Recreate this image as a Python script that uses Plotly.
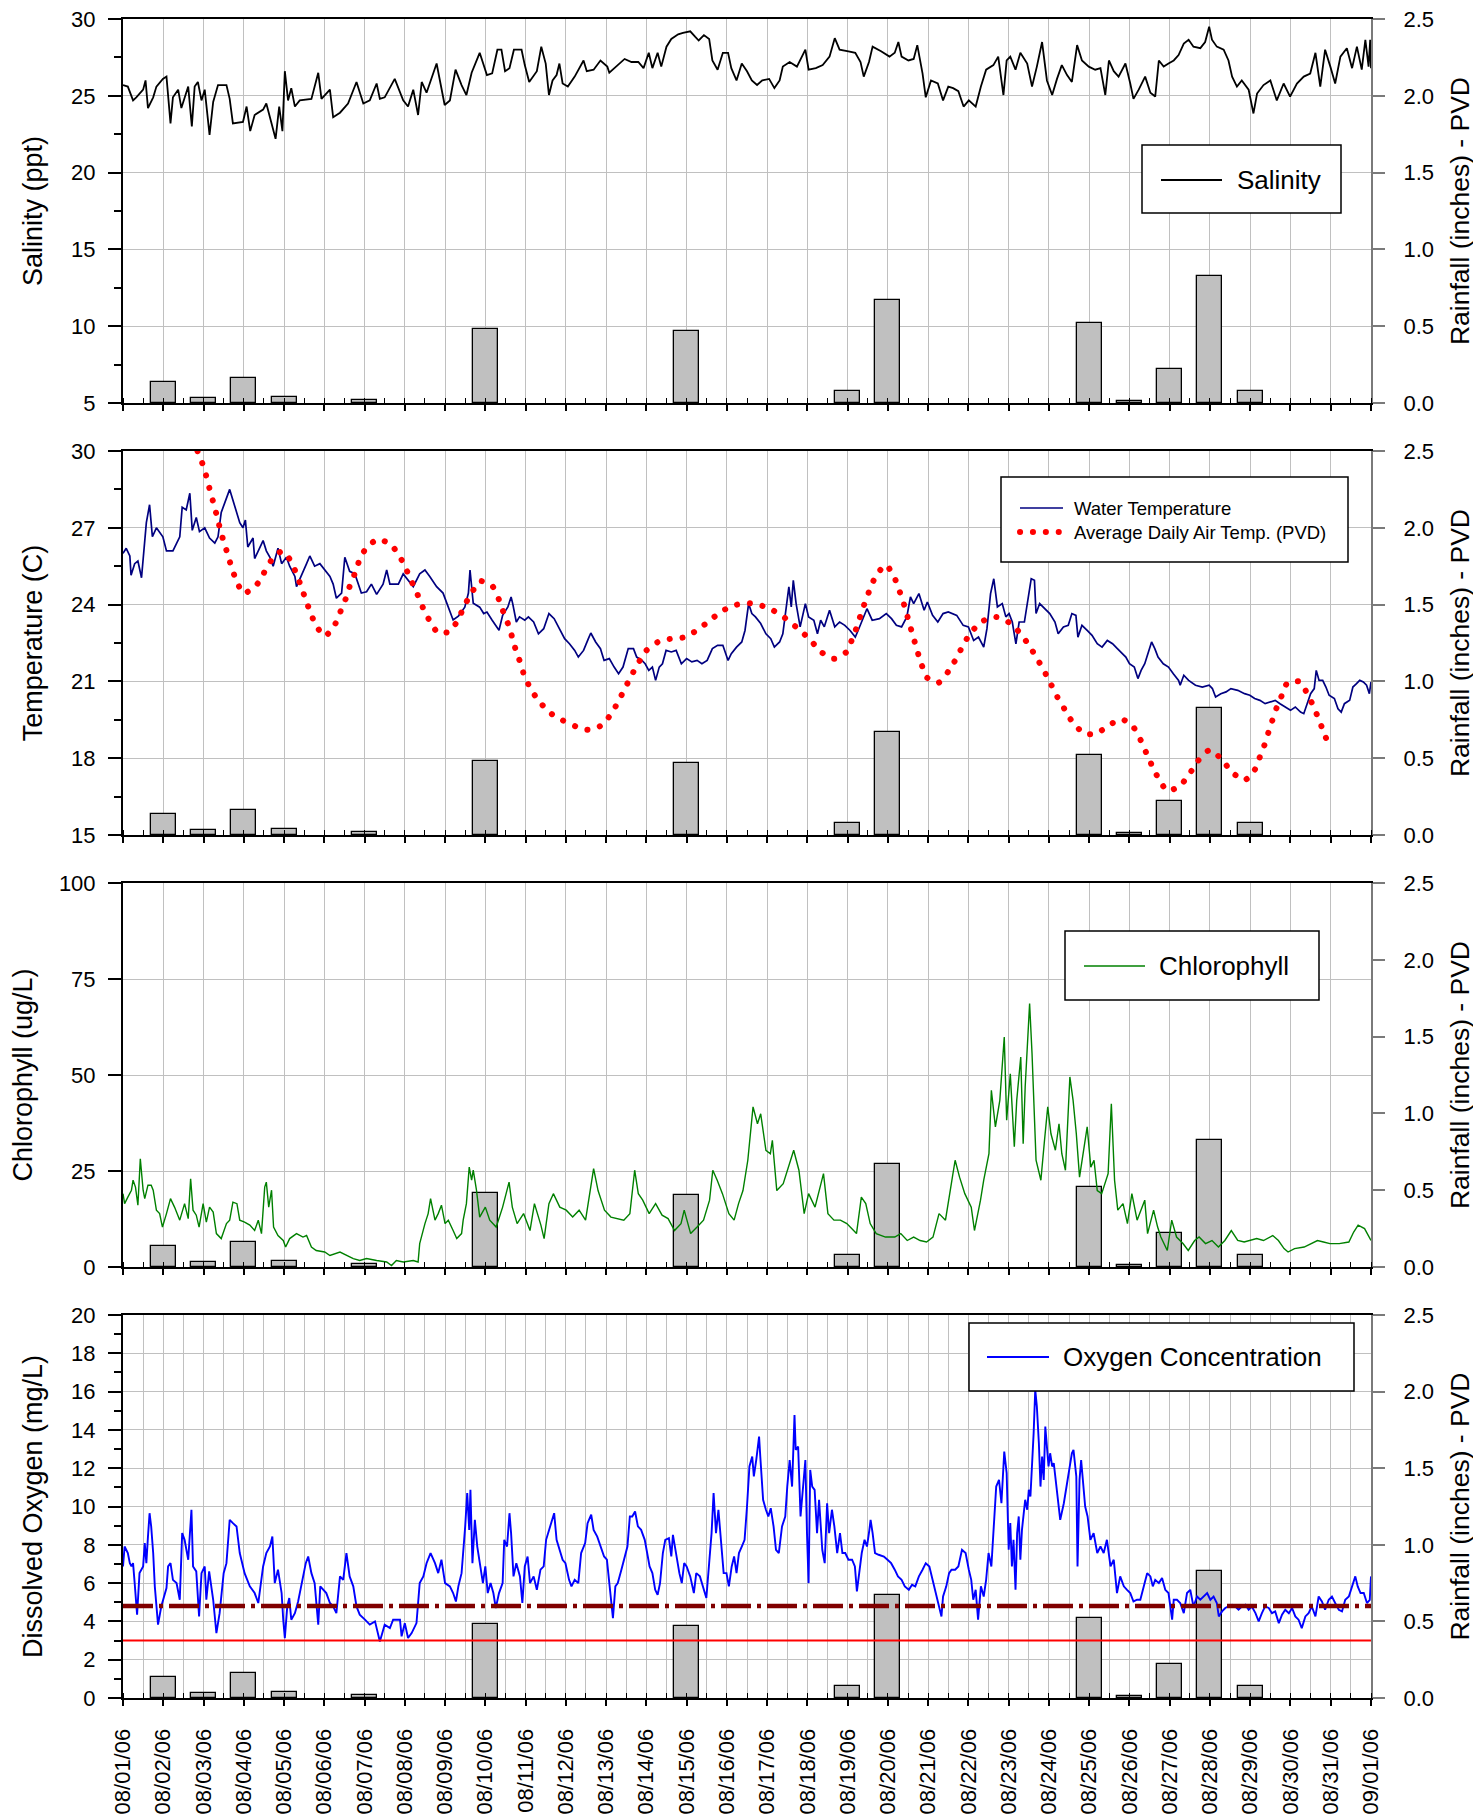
import plotly.graph_objects as go
from datetime import datetime, timedelta

# ---------------- data ----------------
BASE = datetime(2006, 8, 1)
END = datetime(2006, 9, 1)

rain_day = [1, 2, 3, 4, 6, 9, 14, 18, 19, 24, 25, 26, 27, 28]
rain_in = [0.14, 0.03, 0.16, 0.04, 0.02, 0.48, 0.47, 0.08, 0.67, 0.52, 0.01, 0.22, 0.83, 0.08]

# (day offset from 08/01/06 00:00, value)
sal_pts = [
(0.00,25.7),(0.12,25.6),(0.25,24.7),(0.33,24.9),(0.50,25.4),(0.56,26.0),(0.62,24.2),(0.75,24.9),(0.83,25.6),(0.99,26.1),
(1.08,26.25),(1.18,23.2),(1.24,24.9),(1.37,25.4),(1.45,24.2),(1.53,24.9),(1.62,25.6),(1.71,23.0),(1.78,25.6),(1.86,25.9),(1.95,24.7),
(2.03,25.4),(2.15,22.45),(2.24,24.6),(2.36,25.7),(2.57,25.7),(2.65,24.8),(2.73,23.2),(2.98,23.3),
(3.07,24.3),(3.16,22.7),(3.27,23.75),(3.48,24.1),(3.56,24.5),(3.79,22.2),(3.88,24.3),(3.96,22.7),
(4.02,26.6),(4.10,24.7),(4.18,25.5),(4.27,24.3),(4.39,24.7),(4.68,24.8),(4.85,26.5),(4.93,24.8),
(5.14,25.4),(5.22,23.6),(5.39,23.9),(5.59,24.5),(5.80,25.9),(5.97,24.5),
(6.13,24.7),(6.30,25.8),(6.38,24.8),(6.50,24.9),(6.75,26.1),(6.96,24.7),
(7.08,24.3),(7.21,25.4),(7.33,23.75),(7.42,25.9),(7.54,25.2),(7.79,27.1),(7.99,24.4),
(8.12,24.7),(8.26,26.7),(8.41,25.7),(8.53,25.05),(8.66,26.5),(8.86,27.8),
(9.04,26.35),(9.17,26.46),(9.30,28.0),(9.40,28.0),(9.49,26.6),(9.60,26.8),(9.71,28.0),(9.90,28.0),(9.98,27.0),
(10.09,25.9),(10.28,26.6),(10.39,28.2),(10.50,27.1),(10.58,25.05),(10.67,26.0),(10.77,26.35),(10.84,27.1),(10.92,25.8),
(11.05,25.6),(11.22,26.25),(11.35,26.9),(11.44,27.3),(11.52,26.6),(11.69,26.7),(11.86,27.3),
(12.03,26.9),(12.08,26.5),(12.25,26.9),(12.46,27.4),(12.63,27.2),(12.80,27.2),(12.93,26.8),
(13.06,27.8),(13.15,26.8),(13.28,27.8),(13.37,26.9),(13.50,28.2),(13.62,28.7),(13.79,29.0),(13.91,29.1),
(14.09,29.2),(14.21,28.85),(14.30,28.6),(14.43,28.95),(14.56,28.7),(14.64,27.3),(14.77,26.7),(14.90,27.8),
(15.03,27.8),(15.11,26.8),(15.24,26.0),(15.37,27.1),(15.50,26.6),(15.62,26.0),(15.75,25.7),(15.88,26.0),
(16.05,26.1),(16.18,25.5),(16.31,26.0),(16.39,26.9),(16.56,27.2),(16.74,26.9),(16.95,28.0),
(17.03,26.7),(17.21,26.8),(17.38,27.0),(17.55,27.55),(17.68,28.75),(17.80,28.0),
(18.02,27.9),(18.19,27.8),(18.32,27.2),(18.40,26.25),(18.53,27.2),(18.62,28.2),(18.83,27.9),
(19.04,27.55),(19.17,27.8),(19.26,28.5),(19.34,27.55),(19.51,27.3),(19.64,27.4),(19.73,28.3),(19.86,26.46),(19.94,24.9),
(20.07,26.0),(20.24,25.8),(20.37,24.7),(20.50,25.6),(20.62,25.5),(20.75,25.3),(20.88,24.3),
(21.01,24.7),(21.18,24.3),(21.31,25.6),(21.44,26.7),(21.62,27.0),(21.74,27.55),(21.87,25.05),(21.95,27.3),
(22.04,27.55),(22.17,26.7),(22.29,27.8),(22.46,27.1),(22.58,25.6),(22.70,26.9),(22.83,28.5),(22.95,26.0),
(23.08,25.05),(23.20,26.1),(23.32,27.0),(23.45,26.35),(23.57,25.9),(23.70,28.3),(23.82,27.3),(23.99,26.9),
(24.15,26.7),(24.28,26.8),(24.40,25.05),(24.49,27.3),(24.61,26.6),(24.73,26.25),(24.90,27.1),
(25.02,25.8),(25.10,24.8),(25.23,25.4),(25.39,26.25),(25.52,25.2),(25.64,24.95),(25.73,27.3),(25.85,26.9),(25.97,27.1),
(26.10,27.3),(26.22,27.65),(26.35,28.4),(26.47,28.65),(26.59,28.2),(26.76,28.1),(26.88,28.5),(26.98,29.5),
(27.05,28.65),(27.17,28.2),(27.34,28.0),(27.46,27.3),(27.55,26.25),(27.67,25.6),(27.79,26.0),(27.96,25.4),
(28.08,23.85),(28.17,25.15),(28.33,25.7),(28.50,26.0),(28.66,24.7),(28.83,25.8),(28.99,24.95),
(29.16,25.8),(29.33,26.25),(29.49,26.45),(29.62,27.8),(29.74,25.6),(29.86,28.0),(29.99,26.9),
(30.11,25.8),(30.24,27.55),(30.40,28.1),(30.53,26.8),(30.65,28.2),(30.77,26.7),(30.86,28.65),(30.94,26.9),(30.98,28.65),(31.00,26.8),
]

wt_pts = [
(0.00,26.0),(0.08,26.2),(0.17,25.9),(0.20,25.15),(0.29,25.6),(0.37,25.7),(0.46,25.05),(0.50,25.7),(0.58,27.2),(0.66,27.9),(0.73,26.65),(0.83,27.0),(0.99,26.65),
(1.08,26.1),(1.24,26.1),(1.41,26.65),(1.47,27.8),(1.57,27.7),(1.66,28.35),(1.72,26.9),(1.82,27.4),(1.90,26.85),
(2.03,27.0),(2.15,26.6),(2.28,26.4),(2.36,26.65),(2.44,27.6),(2.65,28.5),(2.78,27.8),(2.90,27.2),(2.98,27.0),
(3.04,27.3),(3.10,26.25),(3.23,26.6),(3.27,25.8),(3.48,26.5),(3.56,26.1),(3.65,25.85),(3.73,25.5),(3.85,26.2),(3.94,25.6),
(4.06,25.85),(4.14,25.5),(4.27,25.1),(4.31,24.7),(4.43,25.1),(4.56,25.6),(4.64,25.9),(4.76,25.5),(4.89,25.6),
(5.01,25.35),(5.14,25.1),(5.22,24.8),(5.30,24.25),(5.43,24.45),(5.51,25.85),(5.63,25.3),(5.76,25.2),(5.92,24.45),
(6.05,24.5),(6.17,24.8),(6.30,24.4),(6.46,24.8),(6.55,25.35),(6.63,24.8),(6.84,24.8),(6.96,25.2),
(7.08,24.95),(7.21,24.7),(7.37,25.2),(7.50,25.35),(7.62,25.1),(7.79,24.7),(7.95,24.45),
(8.08,23.9),(8.20,23.4),(8.33,23.55),(8.49,23.9),(8.58,24.45),(8.62,25.35),(8.70,24.05),(8.86,23.9),
(8.96,23.65),(9.04,23.71),(9.17,23.39),(9.26,23.19),(9.34,23.0),(9.43,23.58),(9.56,23.91),(9.64,24.3),(9.68,24.04),(9.77,23.32),(9.85,23.52),(9.98,23.39),
(10.07,23.52),(10.20,23.32),(10.32,22.86),(10.45,23.06),(10.58,23.65),(10.71,23.45),(10.84,23.06),(10.97,22.67),
(11.09,22.47),(11.22,22.21),(11.31,21.95),(11.44,22.21),(11.56,22.67),(11.62,22.89),(11.74,22.54),(11.86,22.28),(11.95,21.82),
(12.08,21.89),(12.20,21.56),(12.31,21.3),(12.42,21.56),(12.55,22.28),(12.68,22.28),(12.76,21.95),(12.89,21.82),(12.97,21.69),
(13.06,21.43),(13.15,21.56),(13.23,21.04),(13.32,21.56),(13.40,21.69),(13.49,22.21),(13.62,22.15),(13.74,22.21),(13.87,21.69),
(14.00,21.89),(14.13,21.76),(14.26,21.82),(14.38,21.69),(14.51,21.82),(14.64,22.28),(14.77,22.41),(14.90,22.41),
(15.03,21.82),(15.11,22.08),(15.24,22.34),(15.37,22.54),(15.45,22.99),(15.54,24.04),(15.62,23.65),(15.71,23.52),(15.84,23.26),(15.97,22.86),
(16.09,22.67),(16.18,22.34),(16.31,22.54),(16.39,22.86),(16.48,23.97),(16.54,24.69),(16.60,23.91),(16.65,24.95),(16.72,24.04),(16.82,23.13),(16.95,24.04),
(17.03,23.52),(17.16,23.39),(17.25,22.86),(17.33,23.39),(17.42,23.13),(17.55,23.78),(17.68,23.13),(17.80,23.32),(17.93,23.19),
(18.06,22.99),(18.19,22.73),(18.26,22.99),(18.39,23.52),(18.48,23.84),(18.61,23.39),(18.79,23.45),(18.96,23.65),
(19.09,23.45),(19.21,23.19),(19.34,23.13),(19.47,23.52),(19.56,24.3),(19.64,24.04),(19.77,24.43),(19.90,23.78),(19.98,24.1),
(20.11,23.58),(20.24,23.32),(20.37,23.65),(20.50,23.71),(20.71,23.58),(20.87,23.19),
(21.00,23.13),(21.13,22.6),(21.25,22.73),(21.38,22.34),(21.46,23.06),(21.55,24.43),(21.63,25.01),(21.72,23.91),(21.84,24.04),(21.93,23.52),
(22.01,23.65),(22.09,23.32),(22.18,22.47),(22.26,23.32),(22.39,23.32),(22.49,24.3),(22.56,25.01),(22.64,24.95),(22.68,23.65),(22.77,24.04),(22.89,23.84),
(23.02,23.65),(23.15,23.32),(23.23,22.86),(23.36,23.13),(23.48,23.19),(23.57,23.65),(23.67,23.58),(23.72,22.73),(23.82,23.19),(23.95,22.99),
(24.07,22.8),(24.20,22.47),(24.32,22.34),(24.45,22.6),(24.58,22.47),(24.70,22.28),(24.83,22.08),(24.91,21.95),
(25.00,21.69),(25.12,21.56),(25.21,21.11),(25.29,21.43),(25.38,21.69),(25.46,22.08),(25.55,22.54),(25.63,22.28),(25.71,21.95),(25.84,21.69),(25.97,21.56),
(26.09,21.3),(26.22,21.04),(26.26,20.85),(26.35,21.24),(26.47,21.04),(26.64,20.85),(26.81,20.78),(26.98,20.85),
(27.06,20.72),(27.14,20.39),(27.27,20.52),(27.40,20.59),(27.52,20.72),(27.69,20.65),(27.86,20.52),(27.99,20.46),
(28.11,20.33),(28.24,20.26),(28.37,20.13),(28.49,20.2),(28.62,20.26),(28.74,20.13),(28.87,20.0),
(29.00,19.87),(29.12,20.0),(29.25,19.8),(29.33,19.74),(29.42,20.13),(29.50,20.52),(29.59,20.72),(29.64,21.43),(29.71,21.04),(29.80,21.04),(29.88,20.78),(29.96,20.46),
(30.09,20.33),(30.18,19.93),(30.26,19.8),(30.34,20.13),(30.47,20.26),(30.55,20.78),(30.64,20.91),(30.72,21.04),(30.81,20.98),(30.89,20.85),(30.96,20.52),(31.00,20.98),
]

air_pts = [
(1.85,30.0),(2.00,29.39),(2.09,28.89),(2.17,28.4),(2.26,27.9),(2.34,27.41),(2.42,26.9),(2.51,26.42),(2.61,25.92),(2.70,25.43),(2.82,24.93),(2.99,24.44),
(3.29,24.71),(3.49,25.21),(3.68,25.72),(3.95,26.09),(4.18,25.68),(4.31,25.18),(4.43,24.69),(4.54,24.18),(4.66,23.68),(4.79,23.19),(5.02,22.77),
(5.27,23.24),(5.40,23.72),(5.53,24.22),(5.63,24.71),(5.76,25.22),(5.87,25.72),(6.04,26.21),(6.33,26.55),(6.65,26.35),(6.88,25.86),
(7.04,25.36),(7.18,24.87),(7.32,24.38),(7.45,23.88),(7.61,23.39),(7.83,22.89),(8.13,22.96),(8.33,23.44),(8.48,23.95),(8.65,24.44),(8.88,24.92),
(9.18,24.71),(9.34,24.19),(9.45,23.7),(9.57,23.22),(9.67,22.71),(9.76,22.21),(9.87,21.73),(9.97,21.22),(10.12,20.73),(10.32,20.25),(10.61,19.77),(10.92,19.48),
(11.25,19.24),(11.55,19.11),(11.86,19.26),(12.12,19.71),(12.30,20.21),(12.46,20.7),(12.62,21.2),(12.79,21.69),(12.99,22.19),(13.30,22.55),(13.62,22.67),(13.93,22.72),
(14.24,22.98),(14.56,23.36),(14.88,23.75),(15.20,23.98),(15.50,24.06),(15.82,23.98),(16.14,23.78),(16.44,23.48),(16.76,23.07),(17.06,22.64),(17.34,22.15),(17.66,21.88),
(17.97,22.15),(18.11,22.64),(18.23,23.14),(18.33,23.63),(18.44,24.13),(18.56,24.62),(18.70,25.12),(18.95,25.55),(19.15,25.1),(19.27,24.61),(19.38,24.11),(19.47,23.62),
(19.56,23.12),(19.65,22.63),(19.74,22.14),(19.84,21.64),(19.97,21.15),(20.26,20.95),(20.52,21.43),(20.71,21.93),(20.87,22.42),(21.06,22.91),(21.36,23.36),(21.68,23.52),
(21.99,23.32),(22.29,22.88),(22.52,22.37),(22.71,21.88),(22.89,21.38),(23.05,20.89),(23.21,20.39),(23.39,19.91),(23.59,19.4),(23.88,18.96),(24.19,18.97),(24.51,19.31),
(24.82,19.52),(25.10,19.21),(25.28,18.7),(25.42,18.2),(25.56,17.71),(25.72,17.21),(25.94,16.73),(26.25,16.91),(26.50,17.41),(26.70,17.89),(26.99,18.32),(27.29,17.96),
(27.54,17.46),(27.86,17.14),(28.10,17.51),(28.23,18.01),(28.35,18.5),(28.45,19.0),(28.55,19.48),(28.66,19.99),(28.79,20.47),(28.93,20.96),(29.23,20.99),(29.43,20.48),
(29.58,19.99),(29.71,19.49),(29.83,19.0),(29.95,18.52),
]

chl_pts = [
(0.00,19.1),(0.04,16.5),(0.12,18.2),(0.21,20.0),(0.25,22.6),(0.31,20.8),(0.37,16.1),(0.43,28.2),(0.50,20.0),(0.54,17.8),(0.62,21.3),(0.70,21.3),(0.75,20.0),(0.83,14.8),(0.91,13.9),(0.98,10.4),
(1.08,13.9),(1.18,17.8),(1.28,15.6),(1.41,12.2),(1.53,16.5),(1.62,12.6),(1.68,23.0),(1.74,14.8),(1.82,13.5),(1.89,10.4),(1.99,16.5),
(2.07,11.7),(2.15,15.6),(2.24,14.3),(2.32,8.7),(2.44,7.4),(2.57,11.3),(2.65,12.2),(2.73,16.9),(2.83,16.5),(2.90,12.2),
(3.02,11.7),(3.15,10.9),(3.27,9.5),(3.36,12.2),(3.44,8.7),(3.52,20.8),(3.56,22.1),(3.62,15.6),(3.69,20.0),(3.74,10.4),(3.85,8.2),(3.98,6.9),
(4.04,5.2),(4.14,7.4),(4.31,8.7),(4.47,7.8),(4.56,8.2),(4.68,5.2),(4.80,4.3),(5.01,3.9),(5.14,3.0),(5.39,3.9),(5.55,3.0),(5.72,2.2),(5.88,1.7),
(6.05,2.2),(6.30,1.7),(6.55,1.3),(6.67,0.4),(6.79,1.7),(6.96,1.3),(7.21,1.7),(7.33,1.3),(7.37,6.1),(7.50,11.3),(7.58,13.9),(7.64,17.8),(7.75,12.2),(7.83,13.9),(7.91,16.1),
(8.00,11.3),(8.08,12.2),(8.20,9.5),(8.29,7.4),(8.41,8.7),(8.45,12.2),(8.53,16.5),(8.60,26.0),(8.66,22.6),(8.70,25.2),(8.78,20.0),(8.86,13.0),
(9.00,15.6),(9.11,12.2),(9.27,10.4),(9.43,15.6),(9.59,22.1),(9.67,15.6),(9.79,11.3),(9.95,13.9),
(10.11,9.5),(10.22,16.5),(10.38,10.9),(10.46,7.4),(10.58,16.5),(10.69,19.1),(10.85,15.6),
(11.01,14.8),(11.17,13.0),(11.33,14.8),(11.49,12.2),(11.64,21.7),(11.69,25.6),(11.80,19.9),(11.96,14.8),
(12.12,13.0),(12.28,12.6),(12.44,12.2),(12.59,13.9),(12.71,25.2),(12.80,19.1),(12.91,17.4),
(13.07,13.9),(13.23,16.5),(13.39,13.5),(13.54,12.6),(13.70,9.5),(13.86,11.3),(13.94,14.8),
(14.10,8.7),(14.26,10.4),(14.42,12.2),(14.57,17.4),(14.65,25.2),(14.76,22.6),(14.89,19.1),
(15.05,13.9),(15.18,12.2),(15.29,16.5),(15.40,19.9),(15.52,27.8),(15.65,41.7),(15.76,37.3),(15.84,39.9),(15.97,30.4),
(16.08,29.5),(16.13,33.0),(16.24,19.9),(16.40,21.7),(16.55,26.9),(16.66,30.4),(16.79,25.2),(16.92,13.9),
(17.03,19.1),(17.19,15.6),(17.40,24.3),(17.51,13.9),(17.66,12.2),(17.82,12.2),(17.98,11.3),
(18.22,8.7),(18.34,18.2),(18.45,16.5),(18.56,11.3),(18.71,8.7),(18.94,7.8),
(19.17,7.8),(19.32,8.7),(19.48,6.9),(19.64,7.8),(19.80,6.9),(19.96,6.5),
(20.12,7.8),(20.27,13.9),(20.43,12.2),(20.59,22.6),(20.67,27.8),(20.78,23.4),(20.91,19.1),
(21.07,15.6),(21.15,9.5),(21.30,17.4),(21.38,22.6),(21.51,29.5),(21.57,46.0),(21.67,36.5),(21.78,43.4),(21.89,59.9),(21.95,38.2),
(22.04,50.3),(22.14,31.3),(22.20,43.4),(22.30,54.7),(22.36,32.1),(22.41,46.9),(22.52,68.6),(22.58,55.6),(22.68,27.8),(22.80,22.6),(22.89,33.0),(22.97,41.7),
(23.05,34.7),(23.16,30.4),(23.25,37.3),(23.32,29.5),(23.41,25.2),(23.52,49.5),(23.60,43.4),(23.68,34.7),(23.76,23.4),(23.84,29.5),(23.95,36.5),
(24.04,26.0),(24.12,27.8),(24.20,19.9),(24.31,19.1),(24.47,24.3),(24.55,42.5),(24.63,22.6),(24.71,14.8),(24.84,16.5),(24.95,11.3),
(25.06,19.1),(25.19,12.2),(25.38,17.4),(25.45,8.7),(25.60,14.8),(25.70,10.4),(25.78,7.8),(25.94,4.3),
(26.05,12.2),(26.17,7.8),(26.33,6.1),(26.46,4.3),(26.62,6.9),(26.73,7.8),(26.89,6.1),
(27.05,6.9),(27.21,5.2),(27.37,6.9),(27.53,9.5),(27.69,6.9),(27.85,6.5),
(28.00,6.9),(28.16,7.4),(28.33,6.9),(28.56,8.2),(28.70,6.9),(28.84,4.8),(28.94,3.9),
(29.10,4.8),(29.34,5.2),(29.50,6.1),(29.67,6.9),(29.82,6.5),(29.98,6.1),
(30.21,6.1),(30.45,6.5),(30.57,9.1),(30.68,10.9),(30.84,10.0),(30.95,7.8),(31.00,6.9),
]

do_pts = [
(0.00,6.87),(0.04,7.91),(0.12,7.57),(0.17,7.04),(0.21,6.87),(0.25,7.04),(0.29,6.0),(0.35,4.35),(0.41,6.52),(0.50,6.87),(0.54,8.09),(0.58,7.04),(0.62,8.43),(0.66,9.65),(0.70,8.96),(0.75,7.57),(0.79,5.83),(0.83,4.78),(0.87,3.83),(0.95,4.78),
(1.04,5.48),(1.08,5.74),(1.12,6.87),(1.18,7.04),(1.24,6.17),(1.33,6.0),(1.41,5.13),(1.47,8.61),(1.53,8.26),(1.62,7.22),(1.70,9.83),(1.74,6.87),(1.82,6.61),(1.89,4.26),(1.95,6.52),
(2.03,6.87),(2.07,5.13),(2.14,6.61),(2.24,5.13),(2.32,3.39),(2.40,4.43),(2.50,6.52),(2.57,7.04),(2.65,9.3),(2.73,9.13),(2.82,8.96),(2.90,7.57),
(3.02,6.52),(3.15,5.83),(3.27,5.48),(3.36,4.96),(3.48,6.87),(3.56,7.57),(3.65,7.91),(3.71,8.43),(3.77,6.0),(3.85,6.7),(3.94,5.48),(3.98,4.09),
(4.02,3.13),(4.08,4.78),(4.13,5.22),(4.18,4.09),(4.27,4.43),(4.35,5.04),(4.43,5.83),(4.54,7.04),(4.60,7.39),(4.68,6.52),(4.76,6.0),(4.85,3.83),(4.90,5.83),(4.97,5.65),
(5.05,5.48),(5.14,4.96),(5.22,4.78),(5.30,4.43),(5.39,6.35),(5.47,6.17),(5.55,7.57),(5.63,6.35),(5.72,5.83),(5.80,4.78),(5.88,4.35),
(6.01,4.09),(6.13,3.83),(6.26,4.0),(6.38,2.95),(6.50,3.83),(6.63,3.65),(6.71,4.09),(6.88,4.09),(6.92,3.22),
(7.00,3.91),(7.08,3.13),(7.17,3.39),(7.29,3.91),(7.37,6.0),(7.46,6.35),(7.54,7.04),(7.64,7.57),(7.75,7.04),(7.83,6.52),(7.91,7.22),
(8.00,6.0),(8.12,5.83),(8.20,5.48),(8.27,5.04),(8.33,5.83),(8.41,6.52),(8.50,8.96),(8.55,10.7),(8.60,8.78),(8.63,10.87),(8.68,7.04),(8.74,9.3),(8.80,7.91),(8.88,6.87),
(8.94,6.0),(9.00,6.87),(9.06,5.48),(9.13,6.0),(9.20,5.48),(9.26,4.7),(9.34,5.48),(9.43,6.0),(9.47,8.26),(9.54,7.91),(9.60,9.65),(9.64,8.61),(9.70,6.35),(9.77,7.04),(9.86,6.35),(9.92,4.96),(9.98,6.87),
(10.05,7.39),(10.11,6.0),(10.20,6.35),(10.28,5.65),(10.37,6.7),(10.45,6.87),(10.51,8.26),(10.58,8.78),(10.64,9.13),(10.71,9.65),(10.77,8.26),(10.86,7.57),(10.92,7.22),(10.99,7.04),
(11.08,6.17),(11.14,5.83),(11.22,6.17),(11.31,6.0),(11.38,7.57),(11.48,8.09),(11.54,9.13),(11.63,9.57),(11.69,8.78),(11.78,8.43),(11.87,7.91),(11.95,7.39),
(12.02,7.22),(12.11,5.13),(12.17,4.17),(12.23,5.83),(12.29,6.0),(12.38,6.7),(12.46,7.39),(12.53,7.91),(12.59,9.48),(12.65,9.48),(12.72,9.74),(12.79,8.96),(12.87,8.78),(12.96,8.26),
(13.02,7.57),(13.08,6.87),(13.15,6.52),(13.22,5.65),(13.28,5.39),(13.34,6.0),(13.41,7.57),(13.47,8.26),(13.56,8.35),(13.62,7.39),(13.66,8.52),(13.73,7.57),(13.82,6.52),(13.88,6.0),(13.94,7.04),
(14.00,6.87),(14.09,6.35),(14.18,5.48),(14.24,6.52),(14.33,6.35),(14.41,5.83),(14.49,5.22),(14.56,7.04),(14.62,8.61),(14.67,10.7),(14.73,8.61),(14.79,9.83),(14.86,8.26),(14.92,6.52),(14.99,6.52),
(15.05,5.83),(15.12,6.87),(15.18,7.39),(15.24,6.52),(15.30,7.57),(15.37,7.91),(15.44,8.26),(15.50,10.0),(15.56,12.09),(15.63,12.61),(15.67,11.57),(15.73,12.43),(15.80,13.65),(15.83,12.61),(15.90,10.35),(15.97,9.83),
(16.03,9.48),(16.09,9.91),(16.16,8.96),(16.22,7.74),(16.29,7.57),(16.37,8.96),(16.45,9.48),(16.50,11.04),(16.56,12.43),(16.62,11.04),(16.68,14.78),(16.71,12.96),(16.77,13.13),(16.83,9.48),(16.90,11.04),(16.95,12.43),(16.99,8.61),
(17.03,6.0),(17.07,11.91),(17.12,11.04),(17.18,10.87),(17.24,8.61),(17.29,10.35),(17.37,7.74),(17.43,7.04),(17.49,10.17),(17.54,8.61),(17.61,9.83),(17.67,8.96),(17.74,7.57),(17.81,8.61),(17.87,7.57),(17.94,7.57),
(18.02,7.22),(18.11,7.22),(18.18,6.87),(18.23,5.57),(18.29,6.52),(18.35,7.57),(18.42,8.26),(18.48,7.91),(18.54,8.78),(18.57,9.3),(18.62,8.61),(18.68,7.57),(18.77,7.48),(18.90,7.39),(18.99,7.22),
(19.08,7.04),(19.17,6.7),(19.25,6.35),(19.34,6.17),(19.42,5.83),(19.52,5.65),(19.60,5.91),(19.68,5.83),(19.77,6.35),(19.86,6.7),(19.94,7.04),
(20.03,6.87),(20.11,6.17),(20.20,5.48),(20.27,4.7),(20.33,4.26),(20.37,5.3),(20.45,5.83),(20.52,6.52),(20.58,6.7),(20.67,6.7),(20.75,6.87),(20.84,7.74),(20.93,7.57),
(21.01,6.7),(21.07,6.17),(21.12,5.13),(21.18,5.65),(21.24,4.09),(21.31,5.83),(21.38,5.3),(21.44,6.17),(21.50,7.57),(21.57,6.87),(21.63,8.96),(21.69,11.04),(21.76,11.39),(21.82,10.17),(21.89,12.87),(21.95,11.74),
(22.00,7.74),(22.04,9.13),(22.08,6.87),(22.12,8.26),(22.17,5.65),(22.21,8.61),(22.25,9.48),(22.29,7.22),(22.33,8.78),(22.41,10.35),(22.46,9.83),(22.50,10.87),(22.54,10.52),(22.58,12.09),(22.62,13.83),(22.66,16.09),(22.70,15.22),(22.75,13.3),(22.79,11.04),(22.83,12.61),(22.87,11.39),(22.91,14.17),(22.95,12.96),(22.99,12.09),
(23.03,12.78),(23.08,12.09),(23.12,12.26),(23.20,10.7),(23.28,9.3),(23.37,10.17),(23.45,11.22),(23.53,12.09),(23.57,12.78),(23.61,12.96),(23.68,11.57),(23.71,6.87),(23.76,11.39),(23.80,12.43),(23.86,11.04),(23.90,10.0),(23.96,9.48),
(24.03,8.26),(24.11,8.61),(24.20,7.57),(24.28,7.91),(24.36,7.57),(24.44,8.26),(24.53,6.87),(24.61,7.22),(24.69,5.48),(24.77,6.35),(24.86,5.83),(24.94,5.65),
(25.02,5.48),(25.10,5.04),(25.19,5.13),(25.27,5.13),(25.35,5.83),(25.44,6.52),(25.52,6.35),(25.58,5.83),(25.64,6.17),(25.73,6.0),(25.81,6.26),(25.89,5.65),(25.97,5.48),
(26.02,4.61),(26.06,4.09),(26.10,5.13),(26.18,5.13),(26.26,4.96),(26.35,4.43),(26.43,5.48),(26.51,5.65),(26.59,4.78),(26.68,5.3),(26.76,5.13),(26.84,5.3),(26.93,5.48),
(27.01,5.13),(27.09,5.3),(27.17,4.96),(27.22,4.26),(27.30,4.52),(27.38,4.7),(27.46,4.78),(27.55,4.87),(27.63,4.78),(27.71,4.61),(27.79,4.78),(27.88,4.87),(27.96,4.61),
(28.04,4.78),(28.13,4.43),(28.21,4.0),(28.29,4.43),(28.37,4.78),(28.46,4.7),(28.54,4.43),(28.62,4.52),(28.71,3.91),(28.79,4.35),(28.87,4.61),(28.96,4.43),
(29.04,4.7),(29.12,4.26),(29.20,4.09),(29.28,3.65),(29.37,4.26),(29.45,4.43),(29.53,4.78),(29.62,4.26),(29.70,5.3),(29.78,5.04),(29.86,4.61),(29.95,5.13),
(30.03,5.3),(30.11,4.96),(30.20,4.61),(30.28,4.52),(30.36,5.13),(30.45,5.3),(30.53,5.83),(30.61,6.35),(30.67,5.83),(30.74,5.48),(30.82,5.48),(30.90,4.96),(30.97,5.13),(31.00,6.35),
]

do_standard = 4.8   # dash-dot reference level (mg/L)
do_hypoxia = 3.0    # solid red reference level (mg/L)

# ---------------- helpers ----------------
def to_dates(days):
    return [BASE + timedelta(days=d) for d in days]

def split(pts):
    return to_dates([p[0] for p in pts]), [p[1] for p in pts]

# page geometry (the page body adds an 8px margin around the figure)
OFF = 8
W, H = 1473, 1809
XL, XR = 123, 1371
PANELS = [(19, 403), (451, 835), (883, 1267), (1315, 1698)]
FONT = "Liberation Sans, Arial, sans-serif"
GRID = "#c0c0c0"
RAIN_AX = "#7a7a7a"
DAY_MS = 86400000
AIR_DOT = dict(color="#ff0000", width=6, dash="0.1px,12.8px")

def px(x):
    return (x - OFF) / W

def py(y):
    return 1 - (y - OFF) / H

fig = go.Figure()

panels = [
    dict(series=[(sal_pts, "#000000", 1.8, None)], title="Salinity (ppt)", rng=[5, 30], dtick=5, minor=2.5),
    dict(series=[(wt_pts, "#000080", 1.7, None), (air_pts, None, None, "air")],
         title="Temperature (C)", rng=[15, 30], dtick=3, minor=1.5),
    dict(series=[(chl_pts, "#008000", 1.4, None)], title="Chlorophyll (ug/L)", rng=[0, 100], dtick=25, minor=None),
    dict(series=[(do_pts, "#0000ff", 1.9, None)], title="Dissolved Oxygen (mg/L)", rng=[0, 20], dtick=2, minor=1),
]

layout = dict(
    width=W, height=H, autosize=False,
    margin=dict(l=0, r=0, t=0, b=0, pad=0, autoexpand=False),
    paper_bgcolor="white", plot_bgcolor="white",
    font=dict(family=FONT, size=22, color="black"),
    showlegend=False, bargap=0,
)

for i, p in enumerate(panels):
    n = i + 1
    xa = "x" if n == 1 else f"x{n}"
    ya = "y" if n == 1 else f"y{n}"
    ma = f"y{n + 4}"
    top, bot = PANELS[i]

    # rainfall bars on the base (right-hand) axis so they sit beneath the lines
    fig.add_trace(go.Bar(
        x=to_dates(rain_day), y=rain_in, width=0.62 * DAY_MS,
        marker=dict(color="#c0c0c0", line=dict(color="black", width=1.3)),
        xaxis=xa, yaxis=ya, hoverinfo="skip"))

    for pts, color, width, style in p["series"]:
        xs, ys = split(pts)
        if style == "air":
            line = dict(AIR_DOT, shape="spline", smoothing=0.6)
        else:
            line = dict(color=color, width=width)
        fig.add_trace(go.Scatter(x=xs, y=ys, mode="lines", line=line,
                                 xaxis=xa, yaxis=ma, hoverinfo="skip"))

    xkey = "xaxis" if n == 1 else f"xaxis{n}"
    ykey = "yaxis" if n == 1 else f"yaxis{n}"
    mkey = f"yaxis{n + 4}"

    xdef = dict(
        domain=[px(XL), px(XR)], anchor=ya, type="date", automargin=False,
        range=[BASE, END], tick0=BASE, dtick=DAY_MS,
        ticks="outside", ticklen=6, tickwidth=1.5, tickcolor="black",
        showline=True, linecolor="black", linewidth=2, mirror=True,
        showgrid=True, gridcolor=GRID, gridwidth=1.4, zeroline=False,
        minor=dict(dtick=DAY_MS / 2, tick0=BASE, ticks="inside", ticklen=5, tickwidth=1.2,
                   tickcolor="black", showgrid=(n == 4), gridcolor=GRID, gridwidth=1.4),
        showticklabels=(n == 4), tickformat="%m/%d/%y", tickangle=-90,
        tickfont=dict(size=22), ticklabelstandoff=14, ticklabeloverflow="allow",
    )
    if n > 1:
        xdef["matches"] = "x"
    layout[xkey] = xdef

    layout[ykey] = dict(
        domain=[py(bot), py(top)], anchor=xa, side="right", automargin=False,
        range=[0, 2.5], tick0=0, dtick=0.5, tickformat=".1f",
        ticks="outside", ticklen=12, tickwidth=1.5, tickcolor=RAIN_AX,
        showline=True, linecolor=RAIN_AX, linewidth=2,
        showgrid=False, zeroline=False, tickfont=dict(size=22), ticklabelstandoff=14,
        ticklabeloverflow="allow",
        title=dict(text="Rainfall (inches) - PVD", font=dict(size=26.5), standoff=17),
    )

    mdef = dict(
        overlaying=ya, anchor=xa, side="left", automargin=False,
        range=p["rng"], tick0=p["rng"][0], dtick=p["dtick"],
        ticks="outside", ticklen=13, tickwidth=1.5, tickcolor="black",
        showline=True, linecolor="black", linewidth=2,
        showgrid=True, gridcolor=GRID, gridwidth=1.4, zeroline=False,
        tickfont=dict(size=22), ticklabelstandoff=8, ticklabeloverflow="allow",
        title=dict(text=p["title"], font=dict(size=27), standoff=21),
    )
    if p["minor"]:
        mdef["minor"] = dict(dtick=p["minor"], ticks="outside", ticklen=7, tickwidth=1.5,
                             tickcolor="black", showgrid=False)
    layout[mkey] = mdef

fig.update_layout(**layout)

# DO reference levels
fig.add_shape(type="line", xref="x4 domain", yref="y8", x0=0, x1=1, y0=do_hypoxia, y1=do_hypoxia,
              line=dict(color="#ff0000", width=2), layer="above")
fig.add_shape(type="line", xref="x4 domain", yref="y8", x0=0, x1=1, y0=do_standard, y1=do_standard,
              line=dict(color="#800000", width=4.5, dash="30px,6px,4px,6px"), layer="above")

# ---------------- legend boxes (drawn by hand to match the original layout) ----------------
def box(x0, y0, x1, y1):
    fig.add_shape(type="rect", xref="paper", yref="paper", x0=px(x0), x1=px(x1), y0=py(y1), y1=py(y0),
                  line=dict(color="black", width=1.5), fillcolor="white", layer="above")

def sample(x0, x1, y, line):
    fig.add_shape(type="line", xref="paper", yref="paper", x0=px(x0), x1=px(x1), y0=py(y), y1=py(y),
                  line=line, layer="above")

def label(x, y, text, size):
    fig.add_annotation(xref="paper", yref="paper", x=px(x), y=py(y), text=text, showarrow=False,
                       xanchor="left", yanchor="middle", font=dict(size=size, family=FONT, color="black"))

box(1142, 145, 1341, 213)
sample(1161, 1222, 180, dict(color="#000000", width=1.8))
label(1235, 180, "Salinity", 26)

box(1001, 477, 1348, 562)
sample(1020, 1063, 508, dict(color="#000080", width=1.7))
sample(1020, 1060, 532, AIR_DOT)
label(1072, 508, "Water Temperature", 18.5)
label(1072, 532, "Average Daily Air Temp. (PVD)", 18.5)

box(1065, 931, 1319, 1000)
sample(1084, 1145, 966, dict(color="#008000", width=1.4))
label(1157, 966, "Chlorophyll", 26)

box(969, 1323, 1354, 1391)
sample(987, 1049, 1357, dict(color="#0000ff", width=1.9))
label(1061, 1357, "Oxygen Concentration", 26)

# round caps turn the near-zero dashes of the air-temperature line into round dots
post = """
var gd = document.getElementById('{plot_id}');
function roundDots(){
  gd.querySelectorAll('path').forEach(function(p){
    var d = p.style.strokeDasharray || p.getAttribute('stroke-dasharray') || '';
    if (d.indexOf('0.1px') === 0 || d.indexOf('0.1,') === 0 || d.indexOf('0.1 ') === 0) {
      p.style.strokeLinecap = 'round';
    }
  });
}
roundDots();
gd.on && gd.on('plotly_afterplot', roundDots);
"""

fig.write_html("out.html", post_script=post)
